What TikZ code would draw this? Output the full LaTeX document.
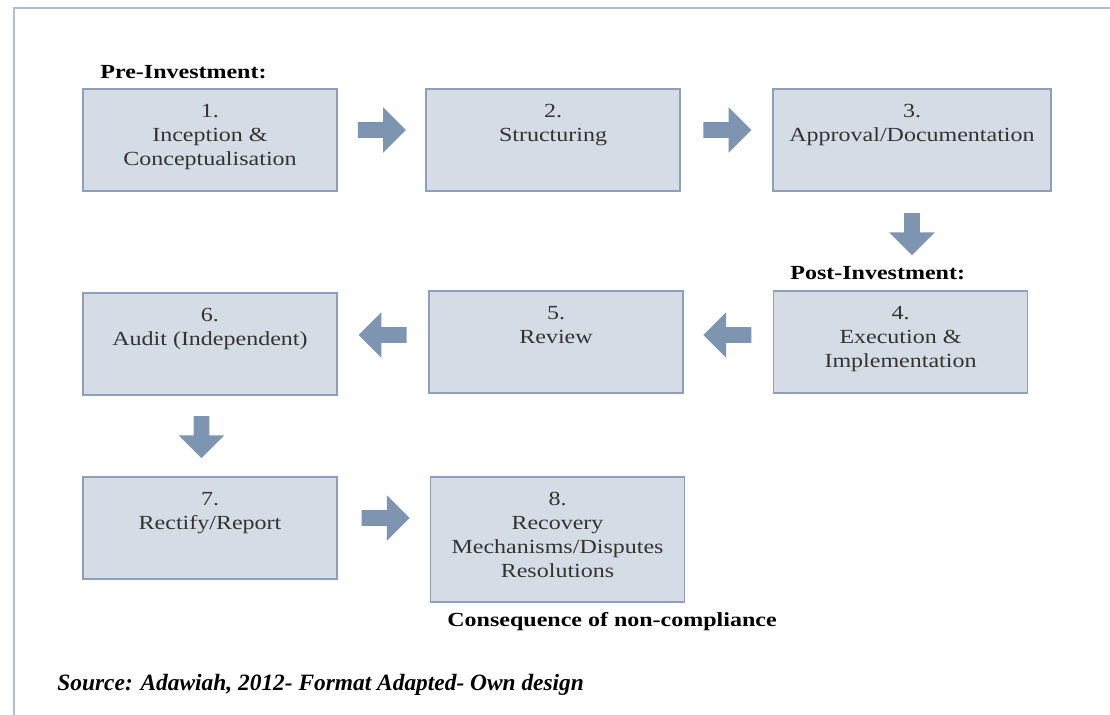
\documentclass[tikz,border=0pt]{standalone}
\usepackage{fontspec}
\setmainfont[FakeStretch=1.2]{Liberation Serif}
\newfontfamily\sourcefont{Liberation Serif}
\usetikzlibrary{shapes.arrows,calc}
\definecolor{boxfill}{HTML}{D6DCE5}
\definecolor{boxline}{HTML}{8DA0BB}
\definecolor{arrowfill}{HTML}{7E95B2}
\definecolor{frameline}{HTML}{B0BDD2}
\definecolor{stagefont}{HTML}{333333}
\tikzset{
  stage/.style={draw=boxline, line width=0.8pt, fill=boxfill, minimum width=127pt, minimum height=51pt, inner sep=0pt},
  stagetext/.style={anchor=north, yshift=-8pt, inner sep=0pt, align=center, text=stagefont, font=\fontsize{10}{12}\selectfont},
  blockarrow/.style={single arrow, fill=arrowfill, draw=none, inner sep=3.75pt, minimum height=24pt, single arrow head extend=7.5pt},
  downarrow/.style={blockarrow, minimum height=21pt, rotate=-90, anchor=tail},
  phase/.style={anchor=west, inner sep=0pt, font=\bfseries\fontsize{10}{12}\selectfont}
}
\begin{document}
\begin{tikzpicture}[x=0.5pt, y=-0.5pt]
\useasboundingbox (0,0) rectangle (1110,715);
\draw[frameline, line width=1pt] (1110,8) -- (14,8) -- (14,715);
% stages
\node[stage, label={[stagetext]north:{1.\\Inception \&\\Conceptualisation}}] (s1) at (210,140) {};
\node[stage, label={[stagetext]north:{2.\\Structuring}}] (s2) at (553,140) {};
\node[stage, minimum width=139pt, label={[stagetext]north:{3.\\Approval/Documentation}}] (s3) at (912,140) {};
\node[stage, label={[stagetext]north:{4.\\Execution \&\\Implementation}}] (s4) at (900.5,342) {};
\node[stage, label={[stagetext]north:{5.\\Review}}] (s5) at (556,342) {};
\node[stage, label={[stagetext]north:{6.\\Audit (Independent)}}] (s6) at (210,344) {};
\node[stage, label={[stagetext]north:{7.\\Rectify/Report}}] (s7) at (210,528) {};
\node[stage, minimum height=62.5pt, label={[stagetext]north:{8.\\Recovery\\Mechanisms/Disputes\\Resolutions}}] (s8) at (557.5,539.5) {};
% arrows
\node[blockarrow, xshift=-1.75pt, yshift=5pt] (a12) at ($(s1.east)!0.5!(s2.west)$) {};
\node[blockarrow, xshift=-1.5pt, yshift=5pt] (a23) at ($(s2.east)!0.5!(s3.west)$) {};
\node[downarrow] (a34) at ([yshift=-10.5pt]s3.south) {};
\node[blockarrow, rotate=180, xshift=-1.5pt, yshift=-3.5pt] (a45) at ($(s4.west)!0.5!(s5.east)$) {};
\node[blockarrow, rotate=180, xshift=-1.75pt, yshift=-4pt] (a56) at ($(s5.west)!0.5!(s6.east)$) {};
\node[downarrow] (a67) at ([xshift=-4.25pt, yshift=-10pt]s6.south) {};
\node[blockarrow, xshift=-1pt, yshift=5pt] (a78) at ($(s7.east)!0.5!(s7.east -| s8.west)$) {};
% phase labels
\node[phase] (pre) at (100,72) {Pre-Investment:};
\node[phase] (post) at (790,273) {Post-Investment:};
\node[phase] (cons) at (447,622) {Consequence of non-compliance};
\node[anchor=west, inner sep=0pt, font=\sourcefont\bfseries\itshape\fontsize{11.7}{14}\selectfont] (src) at (57,685) {Source: Adawiah, 2012- Format Adapted- Own design};
\end{tikzpicture}
\end{document}
